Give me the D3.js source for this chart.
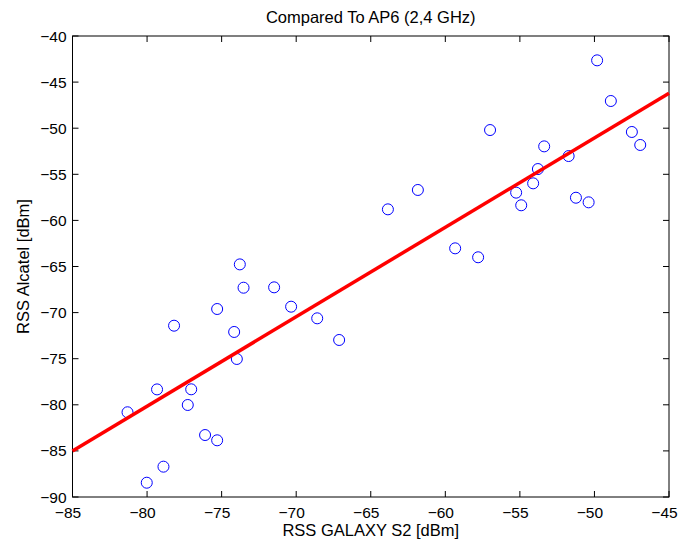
<!DOCTYPE html>
<html><head><meta charset="utf-8">
<script src="https://cdn.jsdelivr.net/npm/d3@7"></script>
<style>body{margin:0;background:#fff;} svg{display:block;} text{font-family:"Liberation Sans",Arial,sans-serif;}</style>
</head><body>
<svg id="c" width="678" height="545"></svg>
<script>
const galaxyS2 = [-81.31,-80.02,-78.90,-79.33,-78.19,-77.27,-77.04,-76.11,-75.30,-75.30,-74.16,-73.98,-73.78,-73.53,-71.48,-70.34,-68.59,-67.12,
  -63.85,-61.84,-59.34,-57.80,-57.00,-55.25,-54.91,-54.11,-53.79,-53.37,-51.73,-51.24,-50.39,-49.82,-48.90,-47.49,-46.93];
const alcatel = [-80.81,-88.45,-86.71,-78.33,-71.42,-80.02,-78.32,-83.28,-83.85,-69.61,-72.10,-75.03,-64.77,-67.30,-67.26,-69.36,-70.62,-72.97,
  -58.80,-56.70,-63.03,-64.00,-50.20,-56.99,-58.36,-55.98,-54.43,-51.97,-53.02,-57.54,-58.04,-42.64,-47.05,-50.41,-51.82];
const fitX = [-85, -45];
const fitY = [-85.0, -46.2];
const xTicks = [-85,-80,-75,-70,-65,-60,-55,-50,-45];
const yTicks = [-90,-85,-80,-75,-70,-65,-60,-55,-50,-45,-40];

const L = 72.5, R = 669, T = 36, B = 497;
const svg = d3.select("#c");
const x = d3.scaleLinear().domain([-85,-45]).range([L,R]);
const y = d3.scaleLinear().domain([-90,-40]).range([B,T]);
const fmt = d => (d < 0 ? "\u2212" + Math.abs(d) : "" + d);

// ticks (inward, all sides)
const tl = 6;
const g = svg.append("g").attr("stroke","#000").attr("stroke-width",1);
xTicks.forEach(t => {
  g.append("line").attr("x1",x(t)).attr("x2",x(t)).attr("y1",B).attr("y2",B-tl);
  g.append("line").attr("x1",x(t)).attr("x2",x(t)).attr("y1",T).attr("y2",T+tl);
});
yTicks.forEach(t => {
  g.append("line").attr("x1",L).attr("x2",L+tl).attr("y1",y(t)).attr("y2",y(t));
  g.append("line").attr("x1",R).attr("x2",R-tl).attr("y1",y(t)).attr("y2",y(t));
});
svg.append("rect").attr("x",L).attr("y",T).attr("width",R-L).attr("height",B-T)
  .attr("fill","none").attr("stroke","#000").attr("stroke-width",1);

svg.append("g").selectAll("text").data(xTicks).join("text")
  .attr("x",d=>x(d)-4.5).attr("y",B+21).attr("text-anchor","middle")
  .attr("font-size",15.5).text(fmt);
svg.append("g").selectAll("text").data(yTicks).join("text")
  .attr("x",L-6).attr("y",d=>y(d)+5.5).attr("text-anchor","end")
  .attr("font-size",15.5).text(fmt);

// points
svg.append("g").selectAll("circle").data(galaxyS2.map((v,i)=>[v,alcatel[i]])).join("circle")
  .attr("cx",d=>x(d[0])).attr("cy",d=>y(d[1])).attr("r",5.5)
  .attr("fill","none").attr("stroke","#0000ff").attr("stroke-width",1);

// fit line
svg.append("line").attr("x1",x(fitX[0])).attr("y1",y(fitY[0])).attr("x2",x(fitX[1])).attr("y2",y(fitY[1]))
  .attr("stroke","#ff0000").attr("stroke-width",3.5);

svg.append("text").attr("x",(L+R)/2).attr("y",23).attr("text-anchor","middle").attr("font-size",16.5)
  .text("Compared To AP6 (2,4 GHz)");
svg.append("text").attr("x",(L+R)/2).attr("y",536).attr("text-anchor","middle").attr("font-size",16.5)
  .text("RSS GALAXY S2 [dBm]");
svg.append("text").attr("transform",`translate(29,${(T+B)/2}) rotate(-90)`).attr("text-anchor","middle").attr("font-size",16.5)
  .text("RSS Alcatel [dBm]");
</script>
</body></html>
